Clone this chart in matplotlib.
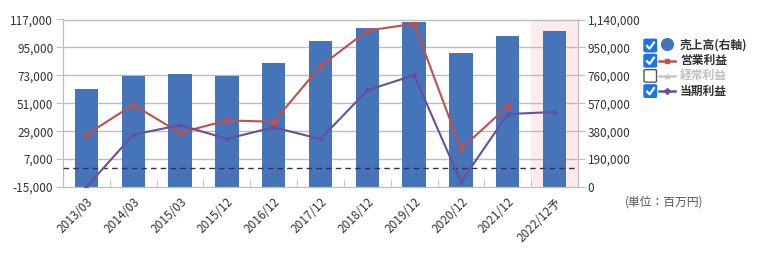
import matplotlib
matplotlib.use("Agg")
import matplotlib.pyplot as plt
from matplotlib.patches import FancyBboxPatch
from matplotlib.lines import Line2D
import numpy as np

plt.rcParams['font.family'] = ['Noto Sans CJK JP', 'DejaVu Sans']

# data (百万円)
periods = ["2013/03", "2014/03", "2015/03", "2015/12", "2016/12", "2017/12",
           "2018/12", "2019/12", "2020/12", "2021/12", "2022/12予"]
sales = [667000, 754000, 769000, 754000, 844000, 994000,
         1081000, 1124000, 912000, 1028000, 1062000]
op_profit = [26200, 49800, 27700, 37500, 36400, 80300,
             108200, 113700, 14900, 48800, np.nan]
net_profit = [-15000, 26200, 33800, 23000, 32000, 22800,
              61200, 73200, -11100, 42500, 44100]

left_ticks = [-15000, 7000, 29000, 51000, 73000, 95000, 117000]
right_ticks = [0, 190000, 380000, 570000, 760000, 950000, 1140000]

c_bar = "#4674b8"
c_red = "#c0504d"
c_purple = "#6a4e9e"
c_grid = "#bdbdbd"
c_text = "#333333"

W, H = 760, 257
fig = plt.figure(figsize=(W / 100, H / 100), dpi=100)
ax = fig.add_axes([63 / W, 1 - 187 / H, 515 / W, (187 - 19.5) / H])
ax2 = ax.twinx()

x = np.arange(len(periods))

# forecast shading (behind grid and bars)
ax2.axvspan(len(periods) - 1.5, len(periods) - 0.5, color="#fdeaea", zorder=0, lw=0)

# grid drawn on the bar axes so it sits behind bars
for v in right_ticks[1:]:
    ax2.axhline(v, color=c_grid, lw=1, zorder=1, clip_on=False)

# bars on right axis
ax2.bar(x, sales, width=0.5, color=c_bar, zorder=2)
ax2.set_ylim(0, 1140000)
ax2.set_yticks(right_ticks)
ax2.set_yticklabels([f"{v:,}" for v in right_ticks])

# lines on left axis (drawn above bars)
ax.set_zorder(ax2.get_zorder() + 1)
ax.patch.set_visible(False)
ax.plot(x, op_profit, color=c_red, lw=1.5, marker="s", ms=3.5, zorder=4)
ax.plot(x, net_profit, color=c_purple, lw=1.5, marker="D", ms=2, zorder=4)
ax.axhline(0, color="#3c2a5c", lw=1, ls=(0, (4, 3)), zorder=3)

ax.set_ylim(-15000, 117000)
ax.set_yticks(left_ticks)
ax.set_yticklabels([f"{v:,}" for v in left_ticks])
ax.set_xlim(-0.5, len(periods) - 0.5)
ax.set_xticks(x)
ax.set_xticklabels(periods, rotation=45, ha="right", rotation_mode="anchor")
ax.set_xticks(np.arange(0.5, len(periods) - 1, 1), minor=True)

for a in (ax, ax2):
    for s in a.spines.values():
        s.set_color(c_grid)
    a.spines["top"].set_visible(False)
ax.tick_params(axis="y", length=5, color=c_grid, labelsize=8.5, labelcolor=c_text, pad=2)
ax2.tick_params(axis="y", length=5, color=c_grid, labelsize=8.5, labelcolor=c_text, pad=2)
ax.tick_params(axis="x", which="major", length=0, labelsize=8.5, labelcolor=c_text, pad=6)
ax.tick_params(axis="x", which="minor", direction="in", length=6, color=c_grid)

# legend with check boxes
items = [("売上高(右軸)", c_bar, "o", True, False),
         ("営業利益", c_red, "s", True, True),
         ("経常利益", "#c8c8c8", "^", False, True),
         ("当期利益", c_purple, "D", True, True)]
for i, (label, col, mk, checked, is_line) in enumerate(items):
    yc = 45.5 + i * 15.2
    bx, bw = 644, 12.5
    box = FancyBboxPatch(((bx) / W, 1 - (yc + bw / 2) / H), bw / W, bw / H,
                         boxstyle="round,pad=0,rounding_size=0.003",
                         transform=fig.transFigure,
                         facecolor="#1a73e8" if checked else "white",
                         edgecolor="#1a73e8" if checked else "#555555", lw=1)
    fig.add_artist(box)
    if checked:
        fig.add_artist(Line2D([(bx + 3) / W, (bx + 5.5) / W, (bx + 10) / W],
                              [1 - (yc + 0.5) / H, 1 - (yc + 3.2) / H, 1 - (yc - 3) / H],
                              transform=fig.transFigure, color="white", lw=1.6))
    if is_line:
        fig.add_artist(Line2D([659 / W, 675 / W], [1 - yc / H] * 2,
                              transform=fig.transFigure, color=col, lw=1.8))
        fig.add_artist(Line2D([667 / W], [1 - yc / H], transform=fig.transFigure,
                              color=col, marker=mk, ms=3, ls=""))
    else:
        fig.add_artist(Line2D([667 / W], [1 - (yc - 1.5) / H], transform=fig.transFigure,
                              color=col, marker="o", ms=8.5, ls=""))
    fig.text(680 / W, 1 - yc / H, label, fontsize=8.5, fontweight="bold",
             color="#c0c0c0" if not checked else c_text, va="center", ha="left")

fig.text(625 / W, 1 - 202 / H, "(単位：百万円)", fontsize=8.5, color="#555555",
         va="center", ha="left")

fig.savefig("out.png", dpi=100)
